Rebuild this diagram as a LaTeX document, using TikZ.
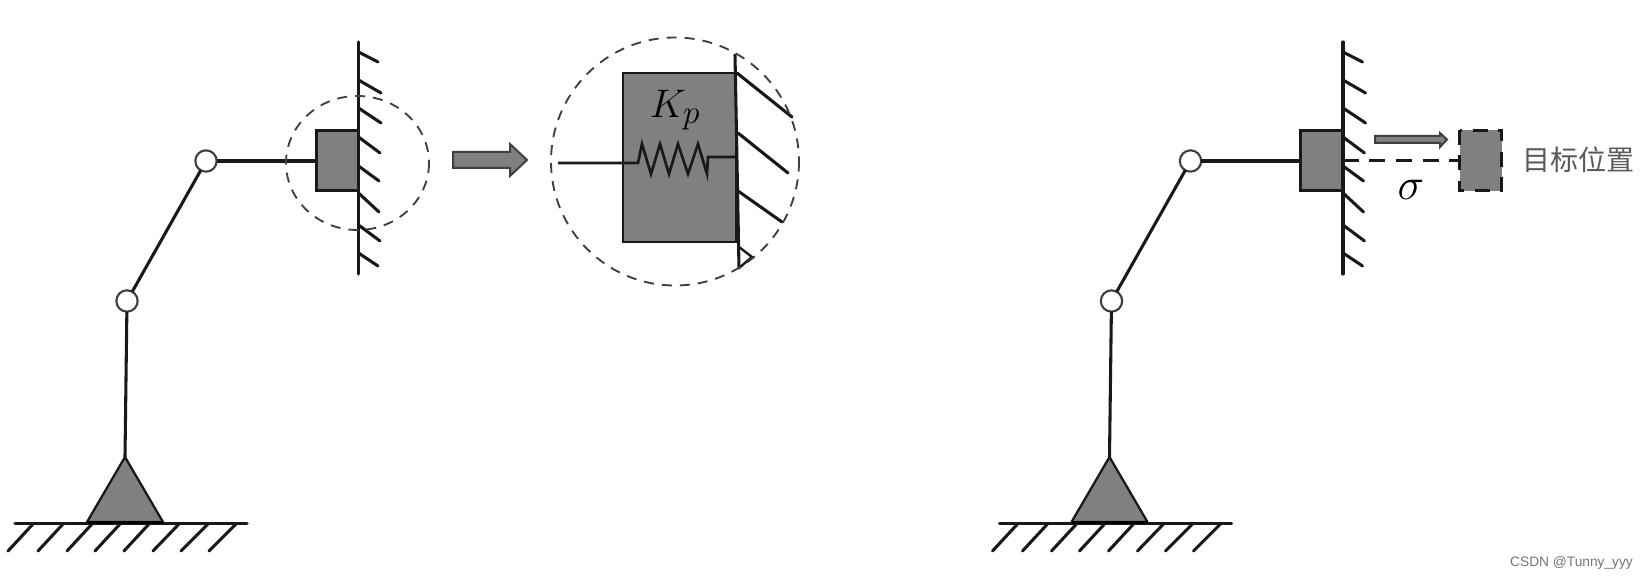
\documentclass[tikz,border=0pt]{standalone}
\usepackage{fontspec}
\setmainfont{Liberation Sans}
\newfontfamily\cjkfont{Noto Sans CJK SC}
\definecolor{fillgray}{gray}{0.5}
\definecolor{inkdark}{gray}{0.1}
\definecolor{dashgray}{gray}{0.25}
\tikzset{
  link/.style={draw=inkdark,line width=2.3pt,line cap=round},
  thinlink/.style={draw=inkdark,line width=1.8pt,line cap=round},
  joint/.style={circle,draw=dashgray,fill=white,line width=1.6pt,minimum size=16pt,inner sep=0pt,outer sep=0pt},
  block/.style={rectangle,draw=inkdark,fill=fillgray,line width=2.4pt,inner sep=0pt,outer sep=0pt},
  solidfill/.style={draw=inkdark,fill=fillgray,line width=1.7pt,line join=round},
  zoomring/.style={draw=dashgray,line width=1.4pt,dash pattern=on 7.5pt off 6pt},
  arrowshape/.style={draw=dashgray,fill=fillgray,line width=1.5pt,line join=miter},
  label/.style={inner sep=0pt,outer sep=0pt}
}
\begin{document}
\begin{tikzpicture}[x=0.75pt,y=-0.75pt]
\useasboundingbox (0,0) rectangle (1647,580);
\foreach \p/\o in {a/0,b/984.5}{
  \begin{scope}[shift={(\o,0)}]
    % ground
    \coordinate (\p-gl) at (15,523.5);
    \coordinate (\p-gr) at (247,523.5);
    \draw[link] (\p-gl) -- (\p-gr);
    \foreach \t/\e in {33/8,63/38,92/67,120/95,149/124,179/153,208/181,236/209}
      \draw[link] (\t,524) -- (\e,551);
    % base
    \coordinate (\p-apex) at (125,457);
    \draw[solidfill] (87,522) -- (\p-apex) -- (163,522) -- cycle;
    \draw[draw=black,line width=2.8pt] (87,522.5) -- (163,522.5);
    % wall
    \coordinate (\p-wt) at (358.5,42);
    \coordinate (\p-wb) at (358.5,274);
    \draw[link] (\p-wt) -- (\p-wb);
    \foreach \ya/\xb/\yb in {52/378/62,80/381/93,108/381/123,137/380/153,166/379/181,193/379/212,225/380/241,253/378/266}
      \draw[link] (358.5,\ya) -- (\xb,\yb);
    % arm
    \node[block,minimum width=31.5pt,minimum height=45.5pt] (\p-box) at (337.3,160.5) {};
    \node[joint] (\p-j1) at (206,161) {};
    \node[joint] (\p-j2) at (127,301) {};
    \draw[link,line cap=butt] (\p-j1) -- (\p-j1 -| \p-box.west);
    \draw[link,line cap=butt] (\p-j1) -- (\p-j2);
    \draw[link,line cap=butt] (\p-j2) -- (\p-apex);
  \end{scope}
}
% left detail ring
\draw[zoomring] (357.5,163) ellipse [x radius=71.5,y radius=67];
% big arrow
\draw[arrowshape] (453,152) -- (510,152) -- (510,144) -- (527,160) -- (510,176) -- (510,168) -- (453,168) -- cycle;
% detail
\node[block,line width=2pt,minimum width=84.75pt,minimum height=126.75pt] (big) at (679.5,157.5) {};
\coordinate (bigtop) at (735,55);
\coordinate (bigbot) at (739,268);
\draw[link] (bigtop) -- (bigbot);
\draw[link] (737,73) -- (792,117);
\draw[link] (738,133) -- (788,173);
\draw[link] (738,191) -- (782,222);
\draw[thinlink] (739,247) -- (752,257) -- (739,268);
\coordinate (leadL) at (558,163);
\coordinate (leadR) at (638,163);
\coordinate (outL) at (708,157);
\coordinate (outR) at (736,157);
\draw[link,line width=2pt,line join=miter,line cap=butt] (leadL) -- (leadR) -- (642,144) -- (651,174) -- (660,144) -- (669,174) -- (678,144) -- (688,174) -- (698,144) -- (707,174) -- (outL) -- (outR);
\node[label,font=\fontsize{24.88}{30}\selectfont] (kp) at (675,110) {\scalebox{1.2}{$K_p$}};
\draw[zoomring] (675,161.5) circle [radius=124];
% right detail
\node[block,minimum width=31.5pt,minimum height=45.5pt,draw=none] (target) at (1480.5,160.5) {};
\draw[draw=inkdark,line width=2.4pt,dash pattern=on 11pt off 8pt] (target.north west) rectangle (target.south east);
\draw[link,line cap=butt,dash pattern=on 12pt off 8pt] (b-box.east) -- (target.west);
\draw[arrowshape] (1375,136) -- (1440,136) -- (1440,133) -- (1447,139.5) -- (1440,147) -- (1440,143) -- (1375,143) -- cycle;
\node[label,font=\fontsize{24.88}{30}\selectfont] (sigma) at (1411,190) {\scalebox{1.35}{$\sigma$}};
\node[label,text=black!65,font=\cjkfont\fontsize{21}{21}\selectfont] (goal) at (1578.5,160) {目标位置};
\node[label,text=black!55,font=\fontsize{10.3}{10.3}\selectfont] (mark) at (1571.5,563) {CSDN @Tunny\_yyy};
\end{tikzpicture}
\end{document}
